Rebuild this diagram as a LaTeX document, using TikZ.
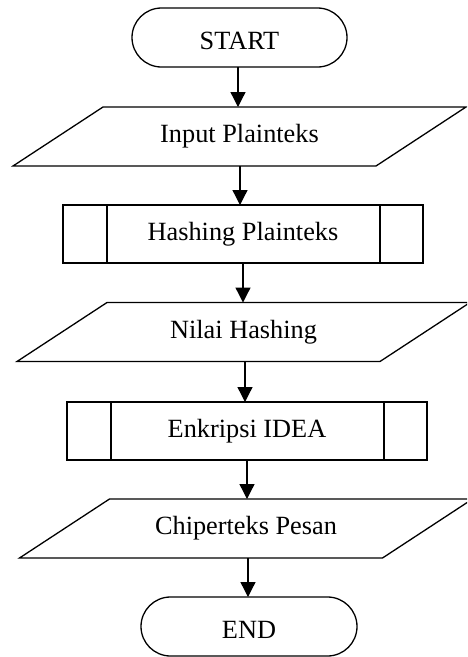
\documentclass[tikz,border=0pt]{standalone}
\usepackage{fontspec}
\setmainfont{Liberation Serif}
\usetikzlibrary{calc,arrows.meta}
\tikzset{
  lw/.style={line width=1.3pt},
  txt/.style={font=\fontsize{26.3}{30}\selectfont},
  term/.style={draw,lw,txt,rectangle,rounded corners=29.5pt,minimum width=215pt,minimum height=59pt,inner sep=0pt,outer sep=0pt,text height=23pt,text depth=0pt},
  iobox/.style={txt,rectangle,minimum width=453pt,minimum height=59pt,inner sep=0pt,outer sep=0pt},
  procbox/.style={draw,lw,txt,rectangle,minimum width=360pt,minimum height=58pt,inner sep=0pt,outer sep=0pt},
  arr/.style={lw,-{Triangle[length=15pt,width=15pt]}}
}
\newcommand{\drawpara}[1]{\draw[lw,line join=miter] ($(#1.north west)+(90,0)$) -- (#1.north east) -- ($(#1.south east)+(-90,0)$) -- (#1.south west) -- cycle;}
\newcommand{\drawsides}[1]{\draw[lw] ($(#1.north west)+(44,0)$) -- ($(#1.south west)+(44,0)$);
  \draw[lw] ($(#1.north east)+(-43,0)$) -- ($(#1.south east)+(-43,0)$);}
\begin{document}
\begin{tikzpicture}[x=1pt,y=-1pt]
\useasboundingbox (0,0) rectangle (467,657);
\clip (0,0) rectangle (467,657);
\node[term] (start) at (239.5,37.5) {START};
\node[iobox] (in) at (239.5,136.5) {Input Plainteks};
\node[procbox] (hp) at (243,234) {Hashing Plainteks};
\node[iobox] (nh) at (243.5,332) {Nilai Hashing};
\node[procbox] (ei) at (247,431) {Enkripsi IDEA};
\node[iobox] (cp) at (246,528.5) {Chiperteks Pesan};
\node[term,minimum width=216pt] (end) at (249,626.5) {END};
\drawpara{in}
\drawpara{nh}
\drawpara{cp}
\drawsides{hp}
\drawsides{ei}
\coordinate (a1) at ($(start.south)+(-1.5,0)$);
\coordinate (a2) at ($(in.south)+(0.5,0)$);
\coordinate (a3) at (hp.south);
\coordinate (a4) at ($(nh.south)+(1.5,0)$);
\coordinate (a5) at (ei.south);
\coordinate (a6) at ($(cp.south)+(2,0)$);
\draw[arr] (a1) -- (a1 |- in.north);
\draw[arr] (a2) -- (a2 |- hp.north);
\draw[arr] (a3) -- (a3 |- nh.north);
\draw[arr] (a4) -- (a4 |- ei.north);
\draw[arr] (a5) -- (a5 |- cp.north);
\draw[arr] (a6) -- (a6 |- end.north);
\end{tikzpicture}
\end{document}
